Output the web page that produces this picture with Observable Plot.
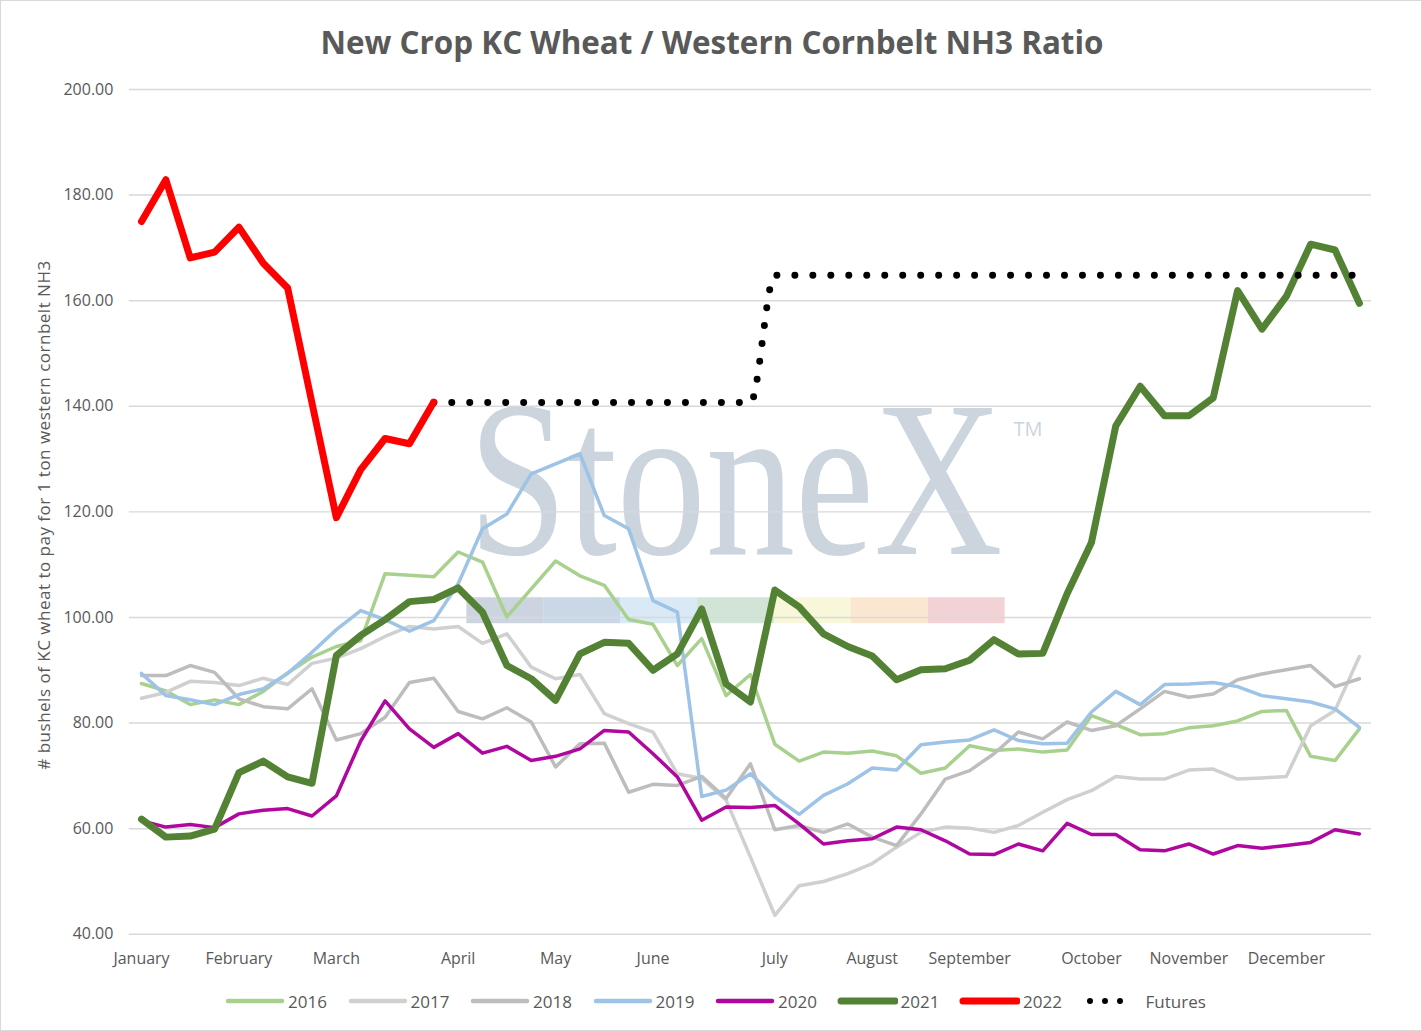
<!DOCTYPE html>
<html>
<head>
<meta charset="utf-8">
<script src="https://cdn.jsdelivr.net/npm/d3@7"></script>
<script src="https://cdn.jsdelivr.net/npm/@observablehq/plot@0.6"></script>
<style>
  html, body { margin: 0; padding: 0; background: #fff; }
  #wrap { position: relative; width: 1422px; height: 1031px; box-sizing: border-box; border: 1px solid #d9d9d9; overflow: hidden; font-family: "Open Sans", sans-serif; }
  #title { position: absolute; left: 0; top: 0; }
  #chart { position: absolute; left: 0; top: 70px; }
  #ylabel { position: absolute; left: 42px; top: 514px; transform: translate(-50%, -50%) rotate(-90deg); white-space: nowrap; font-size: 17px; letter-spacing: 0.5px; color: #595959; }
  #legend { position: absolute; left: 0; top: 989px; width: 1422px; height: 22px; font-size: 17px; color: #595959; }
  .item { position: absolute; top: 0; height: 22px; display: flex; align-items: center; }
  .item svg { margin-right: 3px; }
</style>
</head>
<body>
<div id="wrap">
  <svg id="title" width="1422" height="70">
    <text x="711" y="53" text-anchor="middle" font-family="Open Sans" font-weight="bold" font-size="32" fill="#595959" textLength="783" lengthAdjust="spacingAndGlyphs">New Crop KC Wheat / Western Cornbelt NH3 Ratio</text>
  </svg>
  <div id="chart"></div>
  <div id="ylabel"># bushels of KC wheat to pay for 1 ton western cornbelt NH3</div>
  <div id="legend"></div>
</div>
<script>
const months = ["January","February","March","April","May","June","July","August","September","October","November","December"];
const monthWeek = [0,4,8,13,17,21,26,30,34,39,43,47];
const yTicks = [40,60,80,100,120,140,160,180,200];

const s2016 = [87.5,86.1,83.5,84.4,83.5,86.0,89.5,92.5,94.5,95.6,108.3,108.0,107.7,112.4,110.5,100.1,105.4,110.7,107.9,106.1,99.6,98.7,90.9,96.0,85.2,89.2,76.0,72.8,74.5,74.3,74.7,73.8,70.5,71.5,75.7,74.8,75.1,74.5,74.9,81.4,79.7,77.8,78.0,79.1,79.5,80.4,82.2,82.4,73.7,72.9,78.9];
const s2017 = [84.7,85.8,87.9,87.7,87.1,88.5,87.3,91.3,92.3,94.1,96.4,98.3,97.8,98.3,95.1,96.9,90.6,88.4,89.2,81.8,79.9,78.3,70.4,69.5,65.4,54.6,43.6,49.2,50.0,51.5,53.4,56.5,59.3,60.3,60.1,59.3,60.6,63.1,65.5,67.2,69.9,69.4,69.4,71.1,71.3,69.4,69.6,69.9,79.5,82.4,92.6];
const s2018 = [89.0,89.0,90.9,89.6,84.6,83.1,82.7,86.5,76.8,78.0,81.1,87.7,88.5,82.2,80.8,82.9,80.2,71.7,76.1,76.2,66.9,68.4,68.2,69.9,65.7,72.3,59.8,60.6,59.3,60.9,58.4,56.8,62.8,69.4,71.0,74.2,78.3,77.0,80.2,78.6,79.5,82.7,86.0,84.9,85.5,88.2,89.3,90.1,90.9,86.9,88.4];
const s2019 = [89.4,85.2,84.4,83.5,85.4,86.5,89.4,93.4,97.7,101.3,99.6,97.4,99.4,106.4,116.8,119.6,127.2,129.1,131.0,119.3,116.8,103.2,101.0,66.1,67.3,70.4,66.0,62.7,66.3,68.5,71.5,71.1,75.9,76.4,76.8,78.7,76.7,76.1,76.2,82.1,86.0,83.5,87.3,87.4,87.7,86.9,85.2,84.6,84.0,82.7,79.2];
const s2020 = [61.5,60.3,60.8,60.2,62.8,63.5,63.8,62.4,66.2,76.6,84.2,78.9,75.4,78.0,74.3,75.6,72.9,73.7,75.1,78.6,78.3,74.2,69.8,61.6,64.1,64.0,64.4,60.9,57.1,57.7,58.1,60.3,59.8,57.7,55.2,55.1,57.1,55.8,61.0,58.9,58.9,56.0,55.8,57.1,55.2,56.8,56.3,56.8,57.4,59.8,59.0];
const s2021 = [61.8,58.4,58.6,59.9,70.6,72.8,69.8,68.6,92.8,96.6,99.6,103.0,103.4,105.6,101.0,90.9,88.4,84.3,93.1,95.3,95.1,90.0,93.1,101.6,87.4,84.0,105.2,102.0,96.9,94.5,92.7,88.2,90.1,90.3,91.9,95.8,93.1,93.2,104.5,114.2,136.3,143.8,138.2,138.2,141.6,161.9,154.6,160.8,170.7,169.6,159.5];
const s2022 = [175.0,182.9,168.1,169.2,173.9,167.1,162.4,140.6,118.9,128.0,133.9,132.9,140.8];
const futures = [null,null,null,null,null,null,null,null,null,null,null,null,140.7,140.7,140.7,140.7,140.7,140.7,140.7,140.7,140.7,140.7,140.7,140.7,140.7,140.7,164.8,164.8,164.8,164.8,164.8,164.8,164.8,164.8,164.8,164.8,164.8,164.8,164.8,164.8,164.8,164.8,164.8,164.8,164.8,164.8,164.8,164.8,164.8,164.8,164.8];

const series = [
  {name: "2016", values: s2016, color: "#a9d18e", width: 3.5},
  {name: "2017", values: s2017, color: "#d0d0d0", width: 3.5},
  {name: "2018", values: s2018, color: "#bdbdbd", width: 3.5},
  {name: "2019", values: s2019, color: "#9dc3e6", width: 3.5},
  {name: "2020", values: s2020, color: "#b0079f", width: 3.5},
  {name: "2021", values: s2021, color: "#548235", width: 7}
];

function seriesLine(s) {
  const idx = d3.range(s.values.length);
  return Plot.line(idx, {x: i => i, y: i => s.values[i], stroke: s.color, strokeWidth: s.width, strokeLinejoin: "round", strokeLinecap: "round"});
}

// Watermark logo (decoration only)
function watermark() {
  const g = d3.create("svg:g").attr("text-anchor", "start");
  const cols = ["#ccd4df","#c9d7e7","#d9e9f5","#d2e4d6","#f9f7da","#fbe7d0","#f2d2d5"];
  cols.forEach((c, k) => {
    g.append("rect").attr("x", 466 + 77 * k).attr("y", 527).attr("width", 77).attr("height", 26).attr("fill", c);
  });
  g.append("text").attr("id", "wmText").attr("x", 0).attr("y", 0).attr("text-anchor", "start")
    .attr("transform", "translate(468,484) scale(0.81,1)")
    .attr("font-family", "Liberation Serif").attr("font-size", 222)
    .attr("fill", "#ccd4de")
    .text("StoneX");
  g.append("text").attr("x", 1014).attr("y", 366).attr("text-anchor", "start")
    .attr("font-family", "Open Sans").attr("font-size", 20).attr("fill", "#ccd4de")
    .text("TM");
  return g.node();
}

const idxAll = d3.range(51);
const plot = Plot.plot({
  width: 1422,
  height: 905,
  marginLeft: 128,
  marginRight: 50,
  marginTop: 18,
  marginBottom: 41,
  x: {type: "linear", domain: [-0.5, 50.5]},
  y: {domain: [40, 200]},
  style: {fontFamily: "Open Sans", fontSize: "16px", color: "#595959", background: "transparent", overflow: "visible"},
  marks: [
    watermark,
    Plot.gridY(yTicks, {stroke: "#d9d9d9", strokeOpacity: 1, strokeWidth: 1.5}),
    Plot.axisY(yTicks, {tickFormat: d => d.toFixed(2), tickSize: 0, tickPadding: 16, label: null, fill: "#595959", fontSize: 16}),
    Plot.axisX(monthWeek, {tickFormat: d => months[monthWeek.indexOf(d)], tickSize: 0, tickPadding: 18, label: null, fill: "#595959", fontSize: 16}),
    ...series.map(seriesLine),
    Plot.line(idxAll, {x: i => i, y: i => futures[i], curve: "monotone-x", stroke: "#000", strokeWidth: 7, strokeLinecap: "round", strokeDasharray: "0 18"}),
    Plot.line(d3.range(s2022.length), {x: i => i, y: i => s2022[i], stroke: "#ff0000", strokeWidth: 7, strokeLinejoin: "round", strokeLinecap: "round"})
  ]
});
document.getElementById("chart").appendChild(plot);

// fit the logo word to its width
const wm = plot.querySelector("#wmText");
if (wm) {
  const len = wm.getComputedTextLength();
  if (len > 0) wm.setAttribute("transform", `translate(468,484) scale(${535 / len},1)`);
}

// Legend
const legendItems = [...series, {name: "2022", color: "#ff0000", width: 7}, {name: "Futures", color: "#000", width: 6, dotted: true}];
const legend = d3.select("#legend");
legendItems.forEach((s, k) => {
  const it = legend.append("div").attr("class", "item").style("left", (223 + 122.5 * k) + "px");
  const sv = it.append("svg").attr("width", 61).attr("height", 12);
  if (s.dotted) {
    sv.append("line").attr("x1", 8).attr("x2", 53).attr("y1", 6).attr("y2", 6)
      .attr("stroke", "#000").attr("stroke-width", 6).attr("stroke-linecap", "round").attr("stroke-dasharray", "0 15");
  } else {
    sv.append("line").attr("x1", 4).attr("x2", 58).attr("y1", 6).attr("y2", 6)
      .attr("stroke", s.color).attr("stroke-width", s.width > 5 ? 7 : 4.5).attr("stroke-linecap", "round");
  }
  it.append("span").text(s.name);
});
</script>
</body>
</html>
